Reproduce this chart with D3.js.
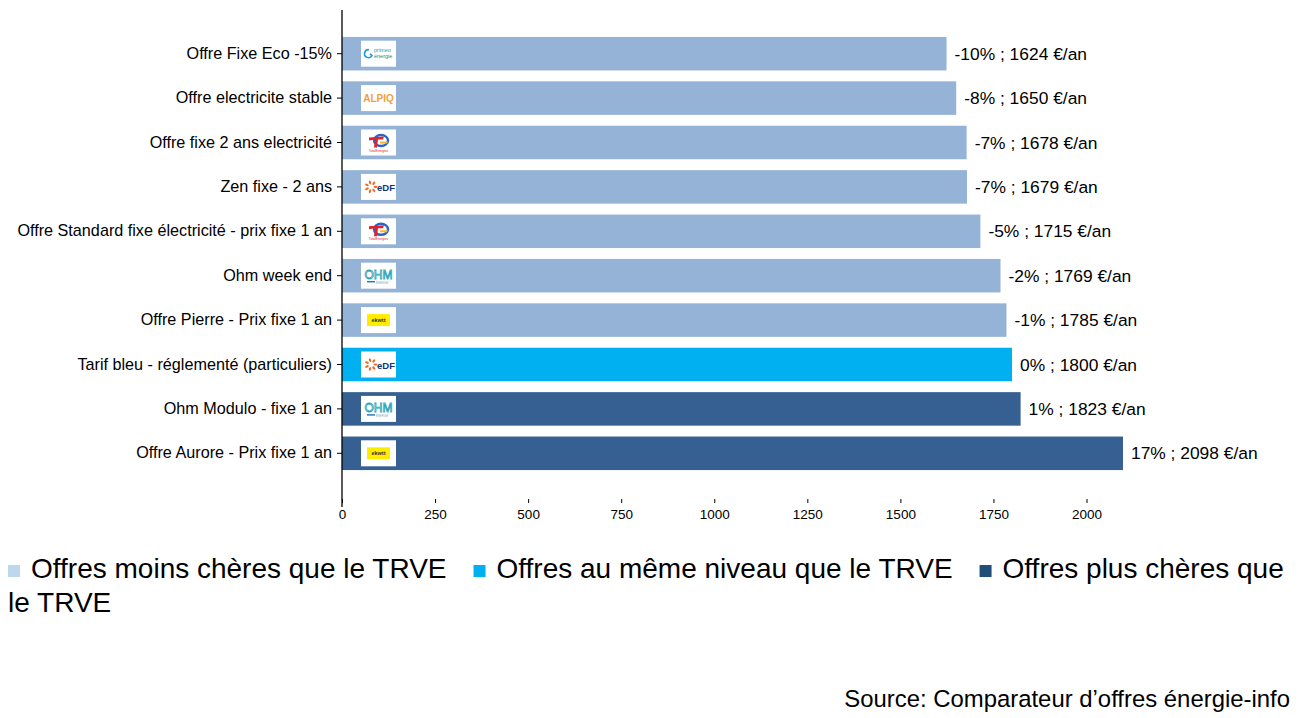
<!DOCTYPE html>
<html><head><meta charset="utf-8">
<script src="https://cdn.jsdelivr.net/npm/d3@7"></script>
<style>body{margin:0;background:#fff;} svg{display:block;font-family:Arial,"Liberation Sans",sans-serif;}</style>
</head><body><svg id="c" width="1306" height="718"></svg>
<script>
const categories = ["Offre Fixe Eco -15%","Offre electricite stable","Offre fixe 2 ans electricité","Zen fixe - 2 ans","Offre Standard fixe électricité - prix fixe 1 an","Ohm week end","Offre Pierre - Prix fixe 1 an","Tarif bleu - réglementé (particuliers)","Ohm Modulo - fixe 1 an","Offre Aurore - Prix fixe 1 an"];
const values = [1624,1650,1678,1679,1715,1769,1785,1800,1823,2098];
const pcts = [-10,-8,-7,-7,-5,-2,-1,0,1,17];
const groups = ["moins","moins","moins","moins","moins","moins","moins","meme","plus","plus"];
const providers = ["primeo","alpiq","total","edf","total","ohm","jaune","edf","ohm","jaune"];
const xTicks = [0,250,500,750,1000,1250,1500,1750,2000];
const legendLabels = ["Offres moins chères que le TRVE","Offres au même niveau que le TRVE","Offres plus chères que le TRVE"];
const legendKeys = ["moins","meme","plus"];
const sourceText = "Source: Comparateur d’offres énergie-info";

const barColor = {moins:"#95B3D7", meme:"#00B0F0", plus:"#366092"};
const legendColor = {moins:"#BDD7EE", meme:"#00B0F0", plus:"#1F4E79"};
const FONT = "Arial, 'Liberation Sans', sans-serif";

const svg = d3.select("#c");
const x = d3.scaleLinear().domain([0,2000]).range([342,1086.5]);
const y = d3.scaleBand().domain(categories).range([31.5,475.5]).paddingInner(0.245).paddingOuter(0.1225);

// bars
svg.append("g").selectAll("rect").data(categories).join("rect")
  .attr("x", x(0)).attr("y", d=>y(d))
  .attr("width", (d,i)=>x(values[i])-x(0)).attr("height", y.bandwidth())
  .attr("fill", (d,i)=>barColor[groups[i]]);

// value labels
svg.append("g").selectAll("text").data(categories).join("text")
  .attr("x",(d,i)=>x(values[i])+8).attr("y",d=>y(d)+y.bandwidth()/2)
  .attr("dy","0.35em").attr("font-size",17.4).attr("fill","#000")
  .text((d,i)=>`${pcts[i]}% ; ${values[i]} €/an`);

// logos
const lg = svg.append("g").selectAll("g").data(categories).join("g")
  .attr("transform", d=>`translate(${x(0)+19},${y(d)+y.bandwidth()/2-13})`);
lg.append("rect").attr("width",35).attr("height",26).attr("fill","#fff");
lg.each(function(d,i){
  const g = d3.select(this), p = providers[i];
  if(p==="primeo"){
    g.append("path").attr("d","M8,9 A4,4 0 1 0 11,15 L9,13").attr("fill","none").attr("stroke","#1b9ad6").attr("stroke-width",1.6);
    g.append("text").attr("x",13).attr("y",11).attr("font-size",5.5).attr("fill","#1aa0b8").text("primeo");
    g.append("text").attr("x",13).attr("y",17).attr("font-size",5.5).attr("fill","#2f8a5a").text("énergie");
  } else if(p==="alpiq"){
    g.append("text").attr("x",17.5).attr("y",16.5).attr("text-anchor","middle").attr("font-size",10).attr("font-weight","bold").attr("fill","#f0a040").text("ALPIQ");
  } else if(p==="total"){
    g.append("ellipse").attr("cx",20).attr("cy",11).attr("rx",7).attr("ry",5.5).attr("fill","none").attr("stroke","#2a64c8").attr("stroke-width",2.4);
    g.append("path").attr("d","M8,8 L23,7 L22,10 L17,10 L16,18 L13,18 L14,10 L8,11Z").attr("fill","#e4202a");
    g.append("path").attr("d","M19,12 L27,12 L26,14 L19,14Z").attr("fill","#f7b531");
    g.append("text").attr("x",17.5).attr("y",22).attr("text-anchor","middle").attr("font-size",3.2).attr("fill","#e4202a").text("TotalEnergies");
  } else if(p==="edf"){
    const cx=10, cy=13;
    for(let k=0;k<7;k++){
      const a = k*Math.PI*2/7;
      g.append("ellipse").attr("cx",cx+Math.cos(a)*4.5).attr("cy",cy+Math.sin(a)*4.5).attr("rx",2).attr("ry",1.1)
        .attr("transform",`rotate(${a*180/Math.PI},${cx+Math.cos(a)*4.5},${cy+Math.sin(a)*4.5})`).attr("fill","#f26a21");
    }
    g.append("text").attr("x",16).attr("y",17).attr("font-size",9.5).attr("font-weight","bold").attr("fill","#10367a").text("eDF");
  } else if(p==="ohm"){
    g.append("text").attr("x",17.5).attr("y",16).attr("text-anchor","middle").attr("font-size",12).attr("fill","none").attr("stroke","#2aa6b8").attr("stroke-width",0.8).text("OHM");
    g.append("path").attr("d","M6,19 L14,19").attr("stroke","#2a7ab8").attr("stroke-width",1.5);
    g.append("text").attr("x",21).attr("y",21).attr("text-anchor","middle").attr("font-size",2.8).attr("fill","#8aa").text("ÉNERGIE");
  } else if(p==="jaune"){
    g.append("rect").attr("x",6).attr("y",7).attr("width",23).attr("height",12).attr("fill","#ffed00");
    g.append("text").attr("x",17.5).attr("y",15).attr("text-anchor","middle").attr("font-size",5.5).attr("font-weight","bold").attr("fill","#333").text("ekwtt");
  }
});

// y axis
const yAxis = svg.append("g").attr("transform",`translate(${x(0)},0)`)
  .call(d3.axisLeft(y).tickSize(5).tickPadding(5));
yAxis.select(".domain").attr("d","M0,10V507").attr("stroke","#000").attr("stroke-width",1.3);
yAxis.selectAll(".tick line").attr("stroke","#000");
yAxis.selectAll(".tick text").attr("font-size",16.2).attr("fill","#000").attr("font-family",FONT);

// x axis
const xAxis = svg.append("g").attr("transform","translate(0,499)")
  .call(d3.axisBottom(x).tickValues(xTicks).tickSize(4).tickPadding(6).tickFormat(d3.format("d")));
xAxis.select(".domain").remove();
xAxis.selectAll(".tick line").attr("stroke","#000");
xAxis.selectAll(".tick text").attr("font-size",13.5).attr("fill","#000").attr("font-family",FONT);

// legend with wrapping
const legFont = 28, maxX = 1292;
let cx = 8, cy = 578;
const lgG = svg.append("g").attr("font-size",legFont).attr("fill","#000");
const measure = lgG.append("text").attr("visibility","hidden");
function w(s){ measure.text(s); return measure.node().getComputedTextLength(); }
legendKeys.forEach((k,i)=>{
  if(i>0) cx += 27;
  lgG.append("rect").attr("x",cx).attr("y",cy-13).attr("width",12).attr("height",12).attr("fill",legendColor[k]);
  cx += 23;
  const words = legendLabels[i].split(" ");
  let line = "", startX = cx;
  words.forEach(wd=>{
    const test = line ? line+" "+wd : wd;
    if(startX + w(test) > maxX && line){
      lgG.append("text").attr("x",startX).attr("y",cy).text(line);
      cy += 34; startX = 8; line = wd;
    } else line = test;
  });
  lgG.append("text").attr("x",startX).attr("y",cy).text(line);
  cx = startX + w(line);
});
measure.remove();

svg.append("text").attr("x",1290).attr("y",707).attr("text-anchor","end").attr("font-size",23.9).attr("fill","#000").text(sourceText);
</script></body></html>
